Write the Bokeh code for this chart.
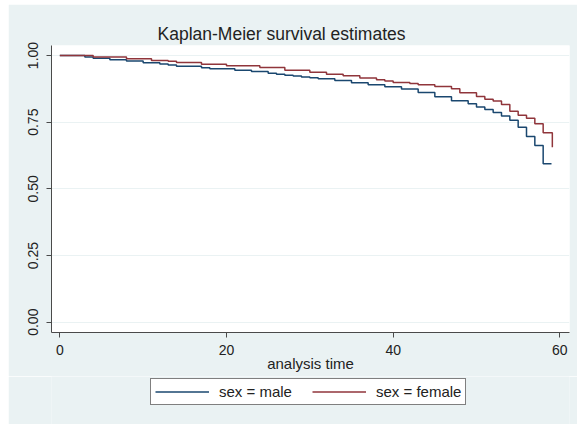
from bokeh.plotting import figure
from bokeh.layouts import column
from bokeh.models import Range1d, FixedTicker, NumeralTickFormatter, Legend, LegendItem
from bokeh.embed import file_html
from bokeh.resources import INLINE

# Kaplan-Meier estimates (time, survival after step)
male_time = [0, 3, 4, 6, 8, 10, 12, 13, 14, 17, 18, 21, 23, 25, 26, 27, 28, 29, 30, 31,
             33, 35, 37, 39, 41, 43, 45, 47, 49, 50, 51, 52, 53, 54, 55, 56, 57, 58, 59]
male_surv = [1.0, 0.994, 0.990, 0.984, 0.979, 0.973, 0.968, 0.964, 0.960, 0.954, 0.950,
             0.945, 0.940, 0.933, 0.930, 0.926, 0.923, 0.919, 0.917, 0.913,
             0.906, 0.898, 0.890, 0.883, 0.874, 0.861, 0.845, 0.830, 0.819, 0.807,
             0.798, 0.786, 0.773, 0.757, 0.731, 0.696, 0.663, 0.594, 0.594]

female_time = [0, 4, 8, 11, 13, 14, 17, 20, 24, 27, 30, 32, 34, 36, 38, 39, 40, 42, 43,
               45, 47, 48, 50, 51, 52, 53, 54, 55, 56, 57, 58, 59.1, 59.1]
female_surv = [1.0, 0.994, 0.988, 0.981, 0.978, 0.974, 0.967, 0.962, 0.955, 0.945,
               0.937, 0.930, 0.924, 0.916, 0.909, 0.904, 0.899, 0.895, 0.890,
               0.884, 0.875, 0.860, 0.846, 0.836, 0.829, 0.816, 0.791, 0.776, 0.765,
               0.744, 0.710, 0.656, 0.656]

series_labels = ["sex = male", "sex = female"]
x_ticks = [0, 20, 40, 60]
y_ticks = [0, 0.25, 0.5, 0.75, 1.0]

BG = "#EAF2F3"
TXT = "#222222"
FONT = "Liberation Sans"
MALE_C = "#1A476F"
FEMALE_C = "#90353B"

p = figure(width=569, height=372, margin=(4, 0, 0, 8),
           output_backend="svg", toolbar_location=None,
           x_range=Range1d(-1, 61.16), y_range=Range1d(-0.0386, 1.0375),
           min_border_left=43, min_border_right=8, min_border_top=41, min_border_bottom=44,
           background_fill_color="white", border_fill_color=BG, outline_line_color=None)

p.title.text = "Kaplan-Meier survival estimates"
p.title.align = "left"
p.title.offset = 106
p.title.text_font = FONT
p.title.text_font_size = "17.5px"
p.title.text_font_style = "normal"
p.title.text_color = TXT
p.title.standoff = 4

p.step(male_time, male_surv, mode="after", line_color=MALE_C, line_width=1.5)
p.step(female_time, female_surv, mode="after", line_color=FEMALE_C, line_width=1.5)

p.xgrid.visible = False
p.ygrid.grid_line_color = BG
p.ygrid.grid_line_width = 1.2

for ax in (p.xaxis[0], p.yaxis[0]):
    ax.axis_line_color = "#4a4a4a"
    ax.major_tick_line_color = "#4a4a4a"
    ax.major_tick_out = 5
    ax.major_tick_in = 0
    ax.minor_tick_line_color = None
    ax.major_label_text_font = FONT
    ax.major_label_text_font_size = "14px"
    ax.major_label_text_color = TXT
    ax.axis_label_text_font = FONT
    ax.axis_label_text_font_size = "15px"
    ax.axis_label_text_font_style = "normal"
    ax.axis_label_text_color = TXT

p.xaxis.ticker = FixedTicker(ticks=x_ticks)
p.yaxis.ticker = FixedTicker(ticks=y_ticks)
p.yaxis.formatter = NumeralTickFormatter(format="0.00")
p.yaxis.major_label_orientation = "vertical"
p.xaxis.axis_label = "analysis time"
p.xaxis.major_label_standoff = 7
p.xaxis.axis_label_standoff = -3
p.yaxis.major_label_standoff = 8

# legend strip below the chart (frame aligned with the chart's frame by the column)
p2 = figure(width=569, height=48, margin=(0, 0, 0, 8),
            output_backend="svg", toolbar_location=None,
            x_range=Range1d(0, 1), y_range=Range1d(0, 1),
            x_axis_location=None, y_axis_location=None,
            min_border=0, min_border_left=0, min_border_right=0,
            min_border_top=0, min_border_bottom=0,
            background_fill_color=BG, border_fill_color=BG, outline_line_color=None)
p2.grid.visible = False
# one-point proxies: a single-point line draws nothing, but gives the legend its style
l1 = p2.line([0], [0], line_color=MALE_C, line_width=1.5)
l2 = p2.line([0], [0], line_color=FEMALE_C, line_width=1.5)

legend = Legend(items=[LegendItem(label=series_labels[0], renderers=[l1]),
                       LegendItem(label=series_labels[1], renderers=[l2])],
                orientation="horizontal", location=(99, 19),
                border_line_color="black", border_line_width=1,
                background_fill_color="white", background_fill_alpha=1,
                glyph_width=54, glyph_height=15, label_standoff=10, spacing=20,
                padding=4, margin=0,
                label_text_font=FONT, label_text_font_size="15px", label_text_color=TXT)
p2.add_layout(legend, "center")

layout = column(p, p2, spacing=0)
open("out.html", "w").write(file_html(layout, INLINE))
